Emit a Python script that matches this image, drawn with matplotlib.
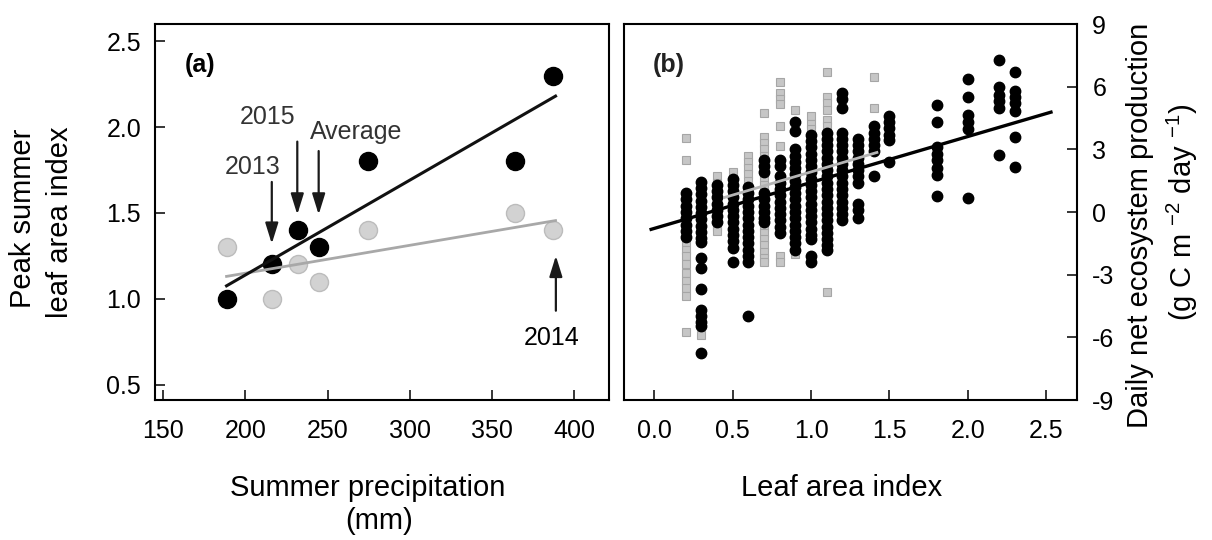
import matplotlib
matplotlib.use("Agg")
import matplotlib.pyplot as plt
import numpy as np

plt.rcParams['font.family'] = ['Liberation Sans', 'DejaVu Sans']
plt.rcParams['mathtext.fontset'] = 'custom'
plt.rcParams['mathtext.rm'] = 'Liberation Sans'
plt.rcParams['mathtext.it'] = 'Liberation Sans:italic'
plt.rcParams['axes.unicode_minus'] = False

# ---------------- Panel (a) data ----------------
precip = [188.5, 216, 231.9, 244.7, 274.4, 363.8, 387]
lai_black = [1.0, 1.2, 1.4, 1.3, 1.8, 1.8, 2.3]
lai_gray = [1.3, 1.0, 1.2, 1.1, 1.4, 1.5, 1.4]
fit_a_x = [188.5, 388.5]
fit_a_black = [1.075, 2.18]
fit_a_gray = [1.13, 1.455]

# ---------------- Panel (b) data ----------------
lai_cols = [0.2, 0.3, 0.4, 0.5, 0.6, 0.7, 0.8, 0.9, 1.0, 1.1, 1.2, 1.3, 1.4, 1.5, 1.8, 2.0, 2.2, 2.3]
nep_black = {
    0.2: [0.9, 0.6, 0.3, 0.0, -0.3, -0.6, -0.9, -1.2],
    0.3: [1.45, 1.15, 0.85, 0.55, 0.25, -0.05, -0.35, -0.65, -0.95, -1.25, -1.45,
          -2.2, -2.7, -3.7, -4.7, -5.0, -5.25, -5.45, -6.75],
    0.4: [1.3, 1.0, 0.7, 0.4, 0.1, -0.2, -0.5],
    0.5: [1.6, 1.3, 1.0, 0.7, 0.4, 0.1, -0.2, -0.5, -0.8, -1.1, -1.4, -1.7, -2.4],
    0.6: [1.2, 0.9, 0.6, 0.3, 0.0, -0.3, -0.6, -0.9, -1.2, -1.5, -1.8, -2.1, -2.4, -4.97],
    0.7: [2.5, 2.2, 1.9, 0.9, 0.6, 0.3, 0.0, -0.3, -0.5],
    0.8: [2.5, 2.2, 1.7, 1.4, 1.1, 0.8, 0.5, 0.2, -0.1, -0.4, -0.7, -1.0],
    0.9: [4.3, 3.9, 3.0, 2.7, 2.4, 2.1, 1.8, 1.5, 1.2, 0.9, 0.6, 0.3, 0.0, -0.3, -0.6,
          -0.9, -1.2, -1.5, -1.8],
    1.0: [3.7, 3.4, 3.1, 2.8, 2.5, 2.2, 1.9, 1.6, 1.3, 1.0, 0.7, 0.4, 0.1, -0.2, -0.5,
          -0.8, -1.1, -1.3, -2.1, -2.4],
    1.1: [3.8, 3.5, 3.2, 2.9, 2.6, 2.3, 2.0, 1.7, 1.4, 1.1, 0.8, 0.5, 0.2, -0.1, -0.4,
          -0.7, -1.0, -1.3, -1.6, -1.8],
    1.2: [5.7, 5.4, 5.0, 3.8, 3.5, 3.2, 2.9, 2.6, 2.3, 2.0, 1.7, 1.4, 1.1, 0.8, 0.5,
          0.2, -0.1, -0.4],
    1.3: [3.5, 3.2, 2.9, 2.6, 2.3, 2.0, 1.7, 1.4, 0.4, 0.1, -0.3],
    1.4: [4.1, 3.8, 3.5, 3.2, 2.9, 1.7],
    1.5: [4.6, 4.3, 4.0, 3.7, 3.45, 2.4],
    1.8: [5.1, 4.3, 3.1, 2.8, 2.5, 2.1, 1.75, 0.75],
    2.0: [6.35, 5.5, 4.65, 4.3, 3.95, 0.65],
    2.2: [7.3, 6.0, 5.6, 5.3, 5.0, 2.75],
    2.3: [6.7, 5.8, 5.5, 5.2, 4.85, 3.6, 2.15],
}
nep_gray = {
    0.2: [3.55, 2.5, -1.45, -1.8, -2.1, -2.5, -2.9, -3.3, -3.65, -4.0, -5.75],
    0.3: [-5.9],
    0.4: [1.7, 1.4, -0.7, -0.9],
    0.5: [1.9],
    0.6: [2.7, 2.4, 2.1, 1.8, 1.5],
    0.7: [4.75, 3.6, 3.3, 3.0, 2.7, 1.6, 1.3, -0.7, -1.0, -1.3, -1.6, -1.9, -2.2, -2.4],
    0.8: [6.2, 5.7, 5.4, 5.15, 4.1, 3.15, -2.1, -2.4],
    0.9: [4.9, -2.0],
    1.0: [4.6, 4.2, 3.95],
    1.1: [6.7, 5.5, 5.2, 4.9, 4.4, 4.1, -3.85],
    1.4: [6.45, 5.0],
}
fit_b_x = [-0.02, 2.53]
fit_b_black = [-0.83, 4.78]
fit_b_gray_x = [0.45, 1.42]
fit_b_gray = [0.7, 2.85]

# ---------------- Figure ----------------
W, H = 1212, 540
fig = plt.figure(figsize=(W / 100, H / 100), dpi=100)

def frac_rect(l, t, r, b):
    return [l / W, 1 - b / H, (r - l) / W, (b - t) / H]

axA = fig.add_axes(frac_rect(155, 24, 609, 400))
axB = fig.add_axes(frac_rect(624, 24, 1077, 400))

for ax in (axA, axB):
    for s in ax.spines.values():
        s.set_linewidth(1.5)

# Panel (a)
axA.plot(precip, lai_gray, 'o', ms=13, mfc='#d2d2d2', mec='#bcbcbc', mew=1.0, zorder=2)
axA.plot(precip, lai_black, 'o', ms=13, color='black', zorder=2)
axA.plot(fit_a_x, fit_a_gray, '-', color='#a8a8a8', lw=2.0, zorder=3)
axA.plot(fit_a_x, fit_a_black, '-', color='#111111', lw=2.2, zorder=3)

axA.set_xlim(145, 421)
axA.set_ylim(0.41, 2.60)
axA.set_xticks([150, 200, 250, 300, 350, 400])
axA.set_yticks([0.5, 1.0, 1.5, 2.0, 2.5])
axA.set_yticklabels(['0.5', '1.0', '1.5', '2.0', '2.5'])
axA.tick_params(axis='both', direction='in', length=7, width=1.1, labelsize=18)
axA.tick_params(axis='x', pad=14)
axA.tick_params(axis='y', pad=10)

arrow = dict(arrowstyle='-|>,head_length=0.9,head_width=0.28', lw=1.6,
             color='#1a1a1a', shrinkA=0, shrinkB=0, mutation_scale=14)
axA.annotate('', xy=(216, 1.32), xytext=(216, 1.68), arrowprops=arrow)
axA.annotate('', xy=(231.5, 1.49), xytext=(231.5, 1.915), arrowprops=arrow)
axA.annotate('', xy=(244.5, 1.49), xytext=(244.5, 1.86), arrowprops=arrow)
axA.annotate('', xy=(388.7, 1.25), xytext=(388.7, 0.93), arrowprops=arrow)
axA.text(204.5, 1.77, '2013', ha='center', va='center', fontsize=18, color='#333333')
axA.text(213.7, 2.06, '2015', ha='center', va='center', fontsize=18, color='#333333')
axA.text(267.3, 1.97, 'Average', ha='center', va='center', fontsize=18, color='#333333')
axA.text(386, 0.77, '2014', ha='center', va='center', fontsize=18, color='black')
axA.text(0.099, 0.891, '(a)', transform=axA.transAxes, ha='center', va='center',
         fontsize=18, fontweight='bold')

# Panel (b)
for x in lai_cols:
    if x in nep_gray:
        g = nep_gray[x]
        axB.plot([x] * len(g), g, 's', ms=5.5, mfc='#c6c6c6', mec='#a6a6a6', mew=0.8, zorder=2)
for x in lai_cols:
    b = nep_black[x]
    axB.plot([x] * len(b), b, 'o', ms=7.5, color='black', zorder=3)
axB.plot(fit_b_x, fit_b_black, '-', color='black', lw=2.4, zorder=4)
axB.plot(fit_b_gray_x, fit_b_gray, '-', color='#b4b4b4', lw=2.0, zorder=5)

axB.set_xlim(-0.193, 2.696)
axB.set_ylim(-9, 9)
axB.set_xticks([0.0, 0.5, 1.0, 1.5, 2.0, 2.5])
axB.set_xticklabels(['0.0', '0.5', '1.0', '1.5', '2.0', '2.5'])
axB.set_yticks([-9, -6, -3, 0, 3, 6, 9])
axB.set_yticklabels(['-9', '-6', '-3', '0', '3', '6', '9'])
axB.yaxis.tick_right()
axB.tick_params(axis='both', direction='in', length=7, width=1.1, labelsize=18)
axB.tick_params(axis='x', pad=14)
axB.tick_params(axis='y', pad=11)
axB.text(0.099, 0.891, '(b)', transform=axB.transAxes, ha='center', va='center',
         fontsize=18, fontweight='bold', color='#222222')

# Axis labels
fig.text(23 / W, 1 - 218 / H, 'Peak summer', rotation=90, ha='center', va='center', fontsize=21)
fig.text(60 / W, 1 - 222 / H, 'leaf area index', rotation=90, ha='center', va='center', fontsize=21)
fig.text(367.5 / W, 1 - 488 / H, 'Summer precipitation', ha='center', va='center', fontsize=21)
fig.text(379 / W, 1 - 521 / H, '(mm)', ha='center', va='center', fontsize=21)
fig.text(842 / W, 1 - 488 / H, 'Leaf area index', ha='center', va='center', fontsize=21)
fig.text(1140 / W, 1 - 225 / H, 'Daily net ecosystem production', rotation=90,
         ha='center', va='center', fontsize=21)
fig.text(1182 / W, 1 - 212 / H, r'(g C m $^{-2}$ day $^{-1}$)', rotation=90,
         ha='center', va='center', fontsize=21)

fig.savefig('out.png', dpi=100)
